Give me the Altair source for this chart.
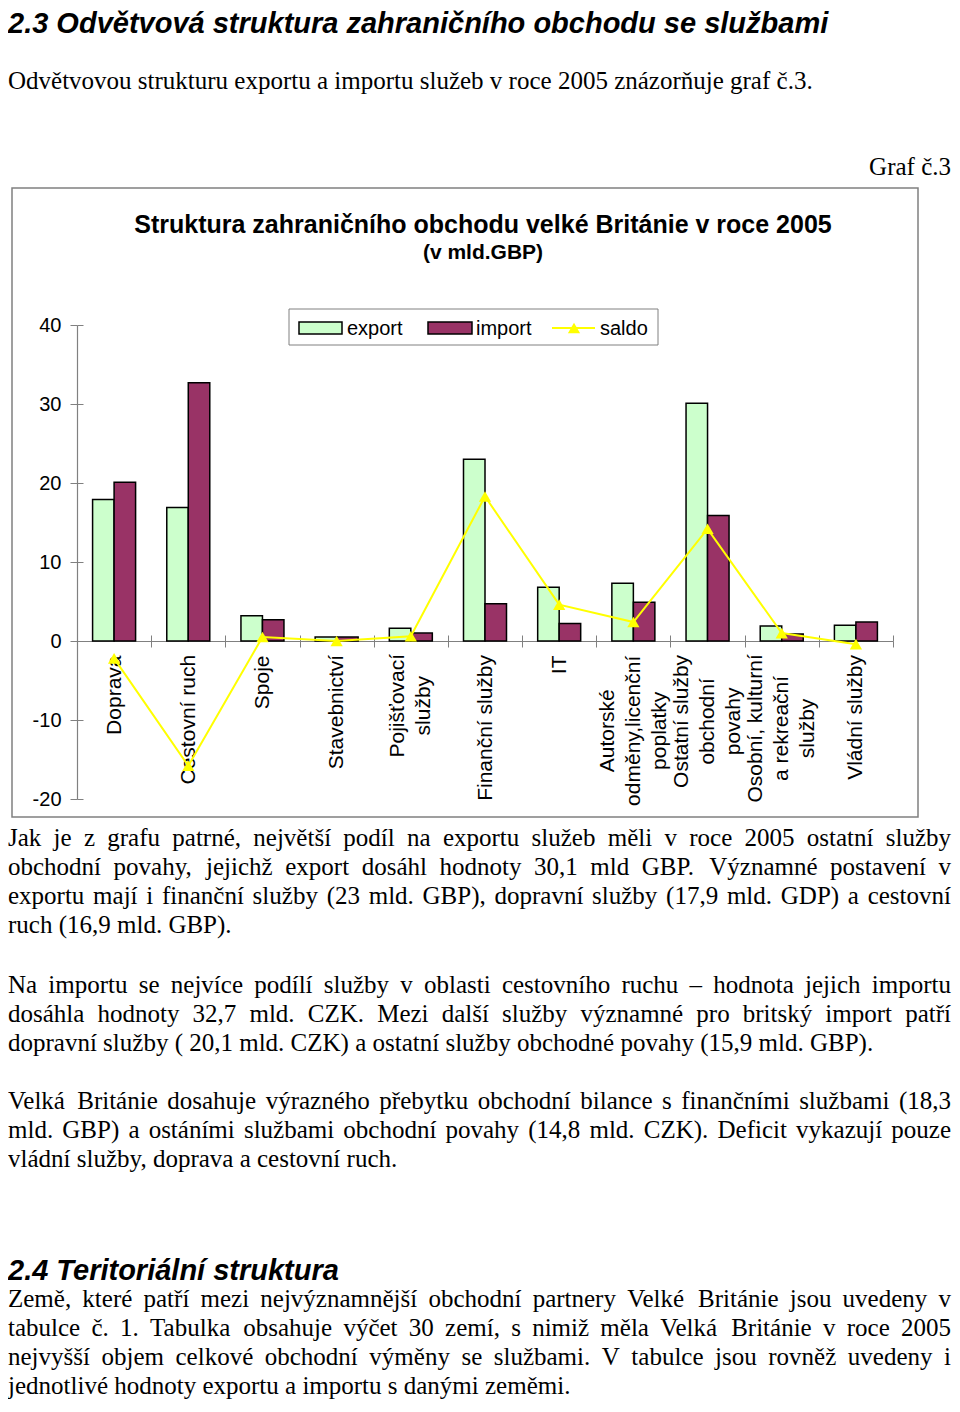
import unicodedata
import altair as alt
import pandas as pd

# ---------------- data ----------------
categories = [
    "Doprava",
    "Cestovní ruch",
    "Spoje",
    "Stavebnictví",
    "Pojišťovací\nslužby",
    "Finanční služby",
    "IT",
    "Autorské\nodměny,licenční\npoplatky",
    "Ostatní služby\nobchodní\npovahy",
    "Osobní, kulturní\na rekreační\nslužby",
    "Vládní služby",
]
export_vals = [17.9, 16.9, 3.2, 0.5, 1.6, 23.0, 6.8, 7.3, 30.1, 1.9, 2.0]
import_vals = [20.1, 32.7, 2.7, 0.5, 1.0, 4.7, 2.2, 4.9, 15.9, 0.9, 2.4]
saldo_vals = [-2.2, -15.8, 0.5, 0.0, 0.6, 18.3, 4.6, 2.4, 14.2, 1.0, -0.4]
series_names = ["export", "import", "saldo"]
series_colors = ["#CCFFCC", "#993366", "#FFFF00"]
y_ticks = [-20, -10, 0, 10, 20, 30, 40]

# ---------------- texts ----------------
heading_1 = "2.3 Odvětvová struktura zahraničního obchodu se službami"
intro_line = ["Odvětvovou strukturu exportu a importu služeb v roce 2005 znázorňuje graf č.3."]
graf_label = "Graf č.3"
chart_title = "Struktura zahraničního obchodu velké Británie v roce 2005"
chart_subtitle = "(v mld.GBP)"
paragraph_1 = [
    "Jak je z grafu patrné, největší podíl na exportu služeb měli v roce 2005 ostatní služby",
    "obchodní povahy, jejichž export dosáhl hodnoty 30,1 mld GBP. Významné postavení v",
    "exportu mají i finanční služby (23 mld. GBP), dopravní služby (17,9 mld. GDP) a cestovní",
    "ruch (16,9 mld. GBP).",
]
paragraph_2 = [
    "Na importu se nejvíce podílí služby v oblasti cestovního ruchu – hodnota jejich importu",
    "dosáhla hodnoty 32,7 mld. CZK. Mezi další služby významné pro britský import patří",
    "dopravní služby ( 20,1 mld. CZK) a ostatní služby obchodné povahy (15,9 mld. GBP).",
]
paragraph_3 = [
    "Velká Británie dosahuje výrazného přebytku obchodní bilance s finančními službami (18,3",
    "mld. GBP) a  ostáními službami obchodní povahy (14,8 mld. CZK). Deficit vykazují pouze",
    "vládní služby, doprava a cestovní ruch.",
]
heading_2 = "2.4 Teritoriální struktura"
paragraph_4 = [
    "Země, které patří mezi nejvýznamnější obchodní partnery Velké Británie jsou uvedeny v",
    "tabulce č. 1. Tabulka obsahuje výčet 30 zemí, s nimiž měla Velká Británie v roce 2005",
    "nejvyšší objem celkové obchodní výměny se službami. V tabulce jsou rovněž uvedeny i",
    "jednotlivé hodnoty exportu a importu s danými zeměmi.",
]

# ---------------- layout ----------------
SANS = "Liberation Sans, Arial, sans-serif"
SERIF = "Liberation Serif, Times New Roman, serif"
ORIGIN_X, ORIGIN_Y = 77, 325       # page position of the plot area
PLOT_W, PLOT_H = 816, 474
SVG_W, SVG_H = 944, 1392
ZERO_FROM_TOP = PLOT_H * 40 / 60
BODY_SIZE, BODY_LH = 25, 29
TEXT_LEFT, TEXT_RIGHT = 8, 951
LABEL_SIZE, LABEL_LH, LABEL_GAP = 21, 26, 8


def X(p):
    return p - ORIGIN_X


def Y(p):
    return p - ORIGIN_Y


# advance widths (1/1000 em): Times (Liberation Serif) and Helvetica (Liberation Sans)
TIMES_W = {
    " ": 250, ",": 250, ".": 250, "(": 333, ")": 333, "–": 500, "-": 333, ":": 278,
    "A": 722, "B": 667, "C": 667, "D": 722, "E": 611, "F": 556, "G": 722, "H": 722,
    "I": 333, "J": 389, "K": 722, "L": 611, "M": 889, "N": 722, "O": 722, "P": 556,
    "Q": 722, "R": 667, "S": 556, "T": 611, "U": 722, "V": 722, "W": 944, "X": 722,
    "Y": 722, "Z": 611,
    "a": 444, "b": 500, "c": 444, "d": 500, "e": 444, "f": 333, "g": 500, "h": 500,
    "i": 278, "j": 278, "k": 500, "l": 278, "m": 778, "n": 500, "o": 500, "p": 500,
    "q": 500, "r": 333, "s": 389, "t": 278, "u": 500, "v": 500, "w": 722, "x": 500,
    "y": 500, "z": 444,
}
HELV_W = {
    " ": 278, ",": 278, ".": 278,
    "A": 667, "B": 667, "C": 722, "D": 722, "E": 667, "F": 611, "G": 778, "H": 722,
    "I": 278, "J": 500, "K": 667, "L": 556, "M": 833, "N": 722, "O": 778, "P": 667,
    "Q": 778, "R": 722, "S": 667, "T": 611, "U": 722, "V": 667, "W": 944, "X": 667,
    "Y": 667, "Z": 611,
    "a": 556, "b": 556, "c": 500, "d": 556, "e": 556, "f": 278, "g": 556, "h": 556,
    "i": 222, "j": 222, "k": 500, "l": 222, "m": 833, "n": 556, "o": 556, "p": 556,
    "q": 556, "r": 333, "s": 500, "t": 278, "u": 556, "v": 500, "w": 722, "x": 500,
    "y": 500, "z": 500,
}


def text_width(s, size, table, default=500):
    total = 0
    for ch in s:
        base = unicodedata.normalize("NFD", ch)[0]
        total += table.get(base, default)
    return total * size / 1000.0


def justified_rows(lines, first_baseline):
    rows = []
    for k, line in enumerate(lines):
        y = Y(first_baseline + k * BODY_LH)
        words = line.split()
        if k == len(lines) - 1 or len(words) < 2:
            rows.append({"t": line, "x": X(TEXT_LEFT), "y": y, "kind": "start"})
            continue
        widths = [text_width(w, BODY_SIZE, TIMES_W) for w in words]
        gap = (TEXT_RIGHT - TEXT_LEFT - sum(widths)) / (len(words) - 1)
        pos = TEXT_LEFT
        for j, (w, ww) in enumerate(zip(words, widths)):
            if j == len(words) - 1:
                rows.append({"t": w, "x": X(TEXT_RIGHT), "y": y, "kind": "end"})
            else:
                rows.append({"t": w, "x": X(pos), "y": y, "kind": "start"})
            pos += ww + gap
    return rows


body_rows = (
    justified_rows(intro_line, 89)
    + justified_rows(paragraph_1, 846)
    + justified_rows(paragraph_2, 993)
    + justified_rows(paragraph_3, 1109)
    + justified_rows(paragraph_4, 1307)
)
body_df = pd.DataFrame(body_rows)

# ---------------- tables ----------------
rows = []
for c, e, i in zip(categories, export_vals, import_vals):
    rows.append({"kategorie": c, "rada": series_names[0], "hodnota": e})
    rows.append({"kategorie": c, "rada": series_names[1], "hodnota": i})
bars_df = pd.DataFrame(rows)
saldo_df = pd.DataFrame(
    {"kategorie": categories, "hodnota": saldo_vals, "poradi": list(range(len(categories)))}
)

blank = alt.Data(values=[{}])


def text_block(lines, x, y, size, font, weight="normal", style="normal", align="left", lh=29):
    return alt.Chart(blank).mark_text(
        text=lines, align=align, baseline="alphabetic", font=font, fontSize=size,
        fontWeight=weight, fontStyle=style, lineHeight=lh, color="black",
    ).encode(x=alt.value(X(x)), y=alt.value(Y(y)))


def box(x1, x2, y1, y2, fill, stroke, sw, fill_opacity=1.0):
    return alt.Chart(blank).mark_rect(
        fill=fill, fillOpacity=fill_opacity, stroke=stroke, strokeWidth=sw
    ).encode(x=alt.value(X(x1)), x2=alt.value(X(x2)), y=alt.value(Y(y1)), y2=alt.value(Y(y2)))


x_scale = alt.Scale(domain=categories, paddingInner=0, paddingOuter=0)
y_scale = alt.Scale(domain=[-20, 40], nice=False, zero=True)

# category labels: lines centred on each other, block starting just below the zero line
n_lines_expr = "length(split(datum.label, '\\n'))"
label_offset = {
    "condition": [
        {"test": n_lines_expr + " == 3", "value": -LABEL_LH},
        {"test": n_lines_expr + " == 2", "value": -LABEL_LH / 2},
    ],
    "value": 0,
}
pad_conditions = []
for c in categories:
    longest = max(text_width(part, LABEL_SIZE, HELV_W, 556) for part in c.split("\n"))
    pad_conditions.append(
        {"test": "datum.label == '" + c.replace("\n", "\\n") + "'",
         "value": round(LABEL_GAP + longest / 2, 1)}
    )
label_padding = {"condition": pad_conditions, "value": LABEL_GAP}

# ---------------- chart marks ----------------
bars = alt.Chart(bars_df).mark_bar(stroke="black", strokeWidth=1.5).encode(
    x=alt.X(
        "kategorie:N", scale=x_scale, sort=categories,
        axis=alt.Axis(
            orient="bottom", offset=-(PLOT_H - ZERO_FROM_TOP), title=None,
            labelAngle=270, labelExpr="split(datum.label, '\\n')",
            labelAlign="center", labelBaseline="middle",
            labelFont=SANS, labelFontSize=LABEL_SIZE, labelLineHeight=LABEL_LH,
            labelColor="black", labelPadding=label_padding, labelLimit=400,
            labelOffset=label_offset, tickSize=6, tickBand="extent",
            tickColor="#808080", domainColor="#808080", domainWidth=1.2,
        ),
    ),
    xOffset=alt.XOffset(
        "rada:N", scale=alt.Scale(domain=series_names[:2], paddingOuter=0.725, paddingInner=0)
    ),
    y=alt.Y(
        "hodnota:Q", scale=y_scale,
        axis=alt.Axis(
            orient="left", values=y_ticks, title=None, grid=False,
            labelExpr="datum.value + ''", labelFont=SANS, labelFontSize=20,
            labelColor="black", labelPadding=9, tickSize=7,
            tickColor="#808080", domainColor="#808080", domainWidth=1.2,
        ),
    ),
    color=alt.Color(
        "rada:N", scale=alt.Scale(domain=series_names[:2], range=series_colors[:2]), legend=None
    ),
)

line = alt.Chart(saldo_df).mark_line(color=series_colors[2], strokeWidth=2).encode(
    x=alt.X(
        "kategorie:N", scale=x_scale, sort=categories,
        axis=alt.Axis(
            orient="top", offset=-ZERO_FROM_TOP, title=None, labels=False, domain=False,
            tickSize=6, tickBand="extent", tickColor="#808080",
        ),
    ),
    y=alt.Y(
        "hodnota:Q", scale=y_scale,
        axis=alt.Axis(
            orient="right", offset=-PLOT_W, values=y_ticks, title=None, labels=False,
            domain=False, grid=False, tickSize=6, tickColor="#808080",
        ),
    ),
    order=alt.Order("poradi:Q"),
)

points = alt.Chart(saldo_df).mark_point(
    shape="triangle-up", filled=True, size=150, color=series_colors[2], opacity=1
).encode(
    x=alt.X("kategorie:N", scale=x_scale, sort=categories, axis=None),
    y=alt.Y("hodnota:Q", scale=y_scale, axis=None),
)

# ---------------- frame, titles, legend ----------------
frame = box(12, 918, 188, 817, "white", "#808080", 1.5, fill_opacity=0)
title = text_block([chart_title], 483, 233, 25, SANS, weight="bold", align="center")
subtitle = text_block([chart_subtitle], 483, 259, 21, SANS, weight="bold", align="center")

legend_frame = box(289, 658, 309, 345, "white", "#808080", 1)
legend_export = box(299, 342, 322, 334, series_colors[0], "black", 1.5)
legend_import = box(428, 472, 322, 334, series_colors[1], "black", 1.5)
legend_saldo_line = alt.Chart(blank).mark_rule(color=series_colors[2], strokeWidth=2).encode(
    x=alt.value(X(552)), x2=alt.value(X(595)), y=alt.value(Y(328))
)
legend_saldo_pt = alt.Chart(blank).mark_point(
    shape="triangle-up", filled=True, size=150, color=series_colors[2], opacity=1
).encode(x=alt.value(X(574)), y=alt.value(Y(328)))
legend_t1 = text_block([series_names[0]], 347, 335, 20, SANS)
legend_t2 = text_block([series_names[1]], 476, 335, 20, SANS)
legend_t3 = text_block([series_names[2]], 600, 335, 20, SANS)

# ---------------- page text ----------------
h1 = text_block([heading_1], 8, 33, 29, SANS, weight="bold", style="italic")
graf = text_block([graf_label], 951, 175, 25, SERIF, align="right")
h2 = text_block([heading_2], 8, 1280, 29, SANS, weight="bold", style="italic")


def body_layer(kind, align):
    return alt.Chart(body_df).transform_filter(
        alt.datum.kind == kind
    ).mark_text(
        align=align, baseline="alphabetic", font=SERIF, fontSize=BODY_SIZE, color="black"
    ).encode(
        x=alt.X("x:Q", scale=None, axis=None),
        y=alt.Y("y:Q", scale=None, axis=None),
        text="t:N",
    )


body_left = body_layer("start", "left")
body_right = body_layer("end", "right")

chart = alt.layer(
    frame, title, subtitle,
    legend_frame, legend_export, legend_import, legend_saldo_line, legend_saldo_pt,
    legend_t1, legend_t2, legend_t3,
    h1, graf, h2, body_left, body_right,
    bars, line, points,
).resolve_axis(
    x="independent", y="independent"
).properties(
    width=PLOT_W,
    height=PLOT_H,
    autosize=alt.AutoSizeParams(type="none"),
    padding={"left": ORIGIN_X - 8, "top": ORIGIN_Y - 8,
             "right": SVG_W - (ORIGIN_X - 8) - PLOT_W,
             "bottom": SVG_H - (ORIGIN_Y - 8) - PLOT_H},
).configure_view(strokeWidth=0)

chart.save("out.html", embed_options={"renderer": "svg", "actions": False})
